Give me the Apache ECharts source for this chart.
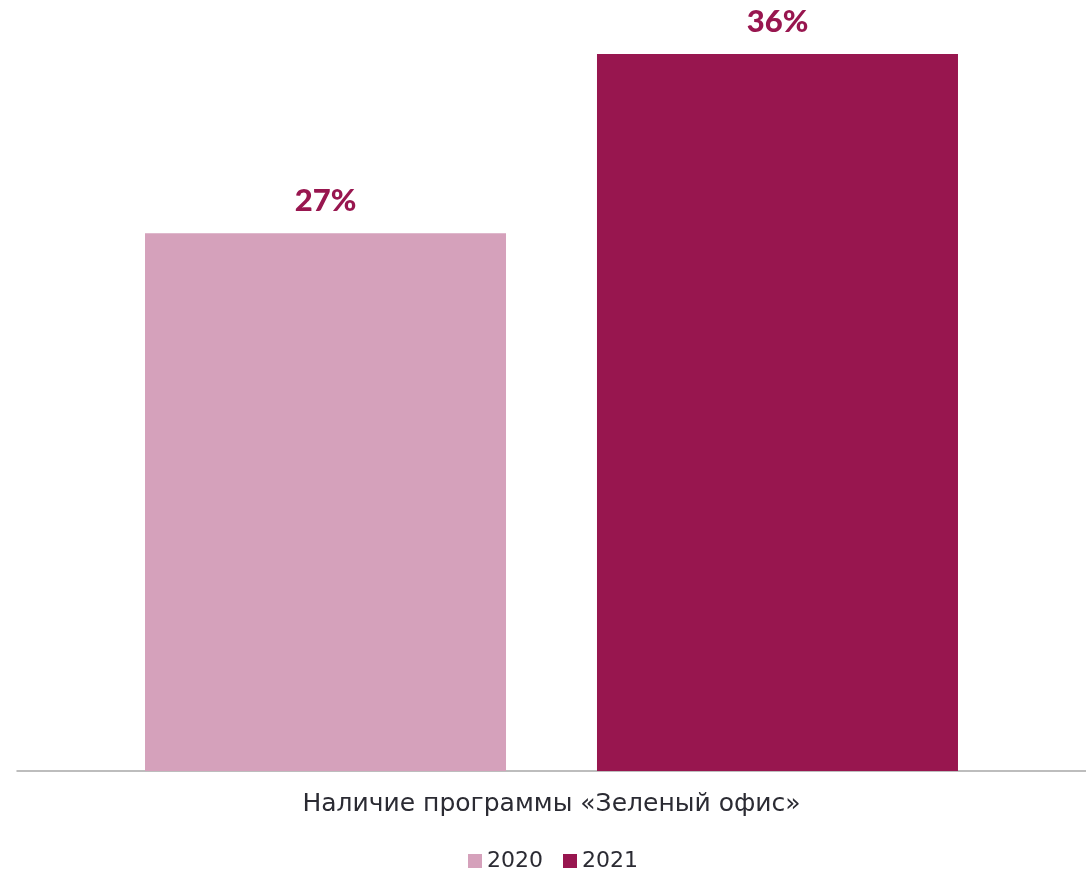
<!DOCTYPE html>
<html>
<head>
<meta charset="utf-8">
<style>
html,body{margin:0;padding:0;background:#fff;}
#chart{width:1086px;height:870px;}
</style>
<script src="https://cdn.jsdelivr.net/npm/echarts@6/dist/echarts.min.js"></script>
</head>
<body>
<div id="chart"></div>
<script>
const categories = ['Наличие программы «Зеленый офис»'];
const seriesNames = ['2020', '2021'];
const values2020 = [27];
const values2021 = [36];
const colors = ['#d5a1bb', '#98164f'];

const chart = echarts.init(document.getElementById('chart'), null, {renderer: 'canvas'});
const labelStyle = {
  show: true,
  position: 'top',
  distance: 17,
  formatter: '{c}%',
  color: '#98164f',
  fontFamily: 'Lato',
  fontWeight: 900,
  fontSize: 31
};
chart.setOption({
  animation: false,
  backgroundColor: '#ffffff',
  grid: {left: 17, right: 0, top: 54, bottom: 99, containLabel: false},
  legend: {
    data: seriesNames,
    top: 850,
    left: 468,
    padding: 0,
    itemWidth: 14,
    itemHeight: 14,
    itemGap: 20,
    icon: 'rect',
    textStyle: {fontFamily: 'DejaVu Sans', fontSize: 22, color: '#2b2b33'}
  },
  xAxis: {
    type: 'category',
    data: categories,
    axisLine: {show: true, lineStyle: {color: '#a8a8a8', width: 1.5}},
    axisTick: {show: false},
    axisLabel: {margin: 21, fontFamily: 'DejaVu Sans', fontSize: 25, color: '#2b2b33'}
  },
  yAxis: {
    type: 'value',
    min: 0,
    max: 36,
    show: false,
    splitLine: {show: false}
  },
  series: [
    {name: seriesNames[0], type: 'bar', data: values2020, barWidth: 361, barGap: '25.2%', itemStyle: {color: colors[0]}, label: labelStyle},
    {name: seriesNames[1], type: 'bar', data: values2021, barWidth: 361, itemStyle: {color: colors[1]}, label: labelStyle}
  ]
});
</script>
</body>
</html>
